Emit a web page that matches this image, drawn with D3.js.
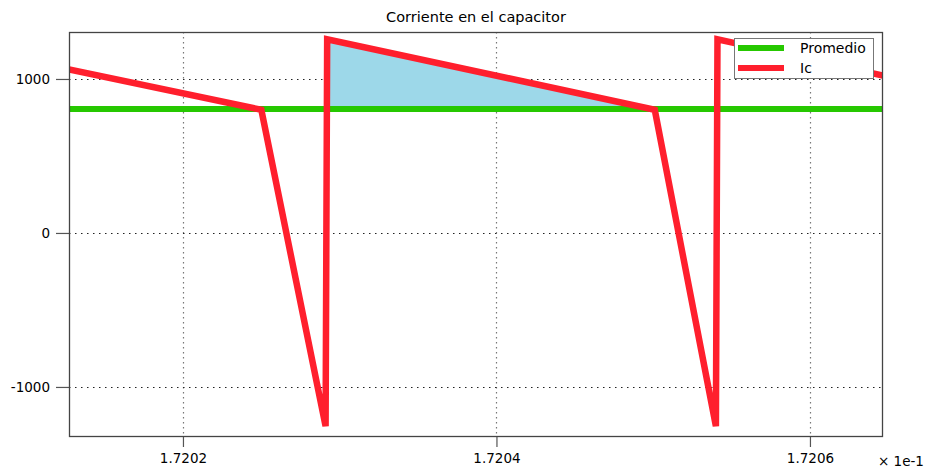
<!DOCTYPE html>
<html>
<head>
<meta charset="utf-8">
<script src="https://cdn.jsdelivr.net/npm/d3@7"></script>
<style>
  html, body { margin: 0; padding: 0; background: #fff; }
  svg { display: block; font-family: "DejaVu Sans", sans-serif; }
</style>
</head>
<body>
<svg id="chart" width="938" height="471"></svg>
<script>
// ---- data ----
const title = "Corriente en el capacitor";
const timeIc = [1.7201273, 1.72025, 1.720291, 1.720292, 1.720501, 1.72054, 1.720541, 1.7206466];
const valuesIc = [1062, 800, -1255, 1258, 800, -1255, 1258, 1022];
const promedio = 805;
const xDomain = [1.7201273, 1.7206466];
const yDomain = [-1325, 1305];
const xTicks = [1.7202, 1.7204, 1.7206];
const yTicks = [-1000, 0, 1000];
const fillRange = [1.720292, 1.720501];
const legendLabels = ["Promedio", "Ic"];
const xExponentLabel = "× 1e-1";

// ---- layout ----
const svg = d3.select("#chart");
const L = 69, R = 883, T = 32, B = 437;
const x = d3.scaleLinear().domain(xDomain).range([L, R]);
const y = d3.scaleLinear().domain(yDomain).range([B, T]);

const green = "#26c800", red = "#ff1f2d", fillCol = "#9dd8e9";

svg.append("defs").append("clipPath").attr("id", "clip")
  .append("rect").attr("x", L).attr("y", T).attr("width", R - L).attr("height", B - T);

// title
svg.append("text").attr("x", (L + R) / 2).attr("y", 22).attr("text-anchor", "middle")
  .attr("font-size", 14.5).attr("fill", "#000").text(title);

// grid
const grid = svg.append("g");
grid.selectAll(".gx").data(xTicks).join("line")
  .attr("x1", d => Math.round(x(d)) + 0.5).attr("x2", d => Math.round(x(d)) + 0.5)
  .attr("y1", T).attr("y2", B)
  .attr("stroke", "#777").attr("stroke-width", 1.2).attr("stroke-dasharray", "1.5,3.5");
grid.selectAll(".gy").data(yTicks).join("line")
  .attr("x1", L).attr("x2", R)
  .attr("y1", d => Math.round(y(d)) + 0.5).attr("y2", d => Math.round(y(d)) + 0.5)
  .attr("stroke", "#222").attr("stroke-width", 1.2).attr("stroke-dasharray", "1.5,4.5");

const plot = svg.append("g").attr("clip-path", "url(#clip)");

// fill between Ic and promedio
const pts = timeIc.map((t, i) => ({ t, v: valuesIc[i] }));
const fillPts = pts.filter(p => p.t >= fillRange[0] && p.t <= fillRange[1]);
plot.append("path").datum(fillPts)
  .attr("d", d3.area().x(p => x(p.t)).y0(y(promedio)).y1(p => y(p.v)))
  .attr("fill", fillCol);

// promedio line
plot.append("line").attr("x1", L).attr("x2", R)
  .attr("y1", y(promedio)).attr("y2", y(promedio))
  .attr("stroke", green).attr("stroke-width", 6);

// Ic line
plot.append("path").datum(pts)
  .attr("d", d3.line().x(p => x(p.t)).y(p => y(p.v)))
  .attr("fill", "none").attr("stroke", red).attr("stroke-width", 6.5)
  .attr("stroke-linejoin", "miter").attr("stroke-miterlimit", 2);

// axes
const xAxis = svg.append("g").attr("transform", `translate(0,${B})`)
  .call(d3.axisBottom(x).tickValues(xTicks).tickFormat(d3.format(".4f")).tickSize(10).tickSizeOuter(0));
const yAxis = svg.append("g").attr("transform", `translate(${L},0)`)
  .call(d3.axisLeft(y).tickValues(yTicks).tickFormat(d => String(d)).tickSize(13).tickSizeOuter(0));
[xAxis, yAxis].forEach(a => {
  a.select(".domain").remove();
  a.selectAll("line").attr("stroke", "#555").attr("stroke-width", 1.2);
  a.selectAll("text").attr("font-size", 13.5).attr("fill", "#000")
    .attr("font-family", "DejaVu Sans, sans-serif");
});
xAxis.selectAll("text").attr("dy", "1.05em").attr("y", 12);
yAxis.selectAll("text").attr("x", -19).attr("dy", "0.36em");

// frame
svg.append("rect").attr("x", L + 0.5).attr("y", T + 0.5).attr("width", R - L - 1).attr("height", B - T - 1)
  .attr("fill", "none").attr("stroke", "#444").attr("stroke-width", 1.3);

// exponent label
svg.append("text").attr("x", 878).attr("y", 466).attr("font-size", 13.5).attr("fill", "#000")
  .text(xExponentLabel);

// legend
const lg = svg.append("g");
lg.append("rect").attr("x", 734.5).attr("y", 38.5).attr("width", 139).attr("height", 40)
  .attr("fill", "#fff").attr("stroke", "#777").attr("stroke-width", 1);
const legColors = [green, red];
legendLabels.forEach((lab, i) => {
  const yy = 48 + i * 20;
  lg.append("line").attr("x1", 738).attr("x2", 784).attr("y1", yy).attr("y2", yy)
    .attr("stroke", legColors[i]).attr("stroke-width", 6);
  lg.append("text").attr("x", 800).attr("y", yy).attr("dy", "0.36em")
    .attr("font-size", 14).attr("fill", "#000").text(lab);
});
</script>
</body>
</html>
